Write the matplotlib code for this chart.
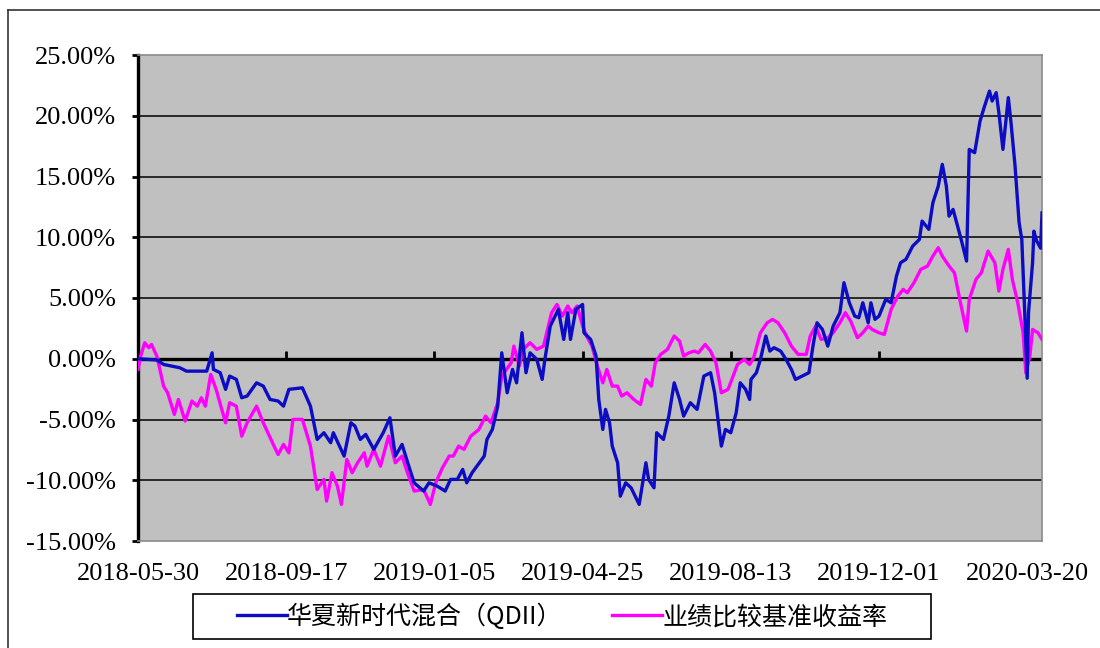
import matplotlib
matplotlib.use('Agg')
import matplotlib.pyplot as plt
from matplotlib.lines import Line2D
from matplotlib.patches import Rectangle
from matplotlib.font_manager import FontProperties
import pandas as pd

# fund cumulative return (%)
fund_dates = [
    '2018-05-30', '2018-06-13', '2018-06-18', '2018-06-30', '2018-07-05', '2018-07-20', '2018-07-24',
    '2018-07-25', '2018-07-30', '2018-08-03', '2018-08-06', '2018-08-11', '2018-08-15', '2018-08-19',
    '2018-08-26', '2018-08-31', '2018-09-05', '2018-09-11', '2018-09-15', '2018-09-19', '2018-09-29',
    '2018-10-05', '2018-10-10', '2018-10-15', '2018-10-20', '2018-10-22', '2018-10-30', '2018-11-04',
    '2018-11-07', '2018-11-11', '2018-11-15', '2018-11-21', '2018-11-28', '2018-12-03', '2018-12-07',
    '2018-12-12', '2018-12-17', '2018-12-21', '2018-12-28', '2019-01-01', '2019-01-07', '2019-01-13',
    '2019-01-17', '2019-01-22', '2019-01-26', '2019-01-29', '2019-02-02', '2019-02-11', '2019-02-13',
    '2019-02-17', '2019-02-21', '2019-02-24', '2019-02-28', '2019-03-04', '2019-03-07', '2019-03-11',
    '2019-03-14', '2019-03-17', '2019-03-22', '2019-03-26', '2019-03-28', '2019-04-01', '2019-04-07',
    '2019-04-11', '2019-04-14', '2019-04-16', '2019-04-20', '2019-04-25', '2019-04-26', '2019-05-01',
    '2019-05-05', '2019-05-07', '2019-05-10', '2019-05-12', '2019-05-15', '2019-05-17', '2019-05-21',
    '2019-05-23', '2019-05-27', '2019-05-31', '2019-06-06', '2019-06-11', '2019-06-13', '2019-06-17',
    '2019-06-19', '2019-06-24', '2019-06-28', '2019-07-02', '2019-07-06', '2019-07-09', '2019-07-14',
    '2019-07-19', '2019-07-24', '2019-07-29', '2019-08-01', '2019-08-06', '2019-08-09', '2019-08-13',
    '2019-08-17', '2019-08-20', '2019-08-24', '2019-08-27', '2019-08-28', '2019-09-01', '2019-09-04',
    '2019-09-08', '2019-09-11', '2019-09-14', '2019-09-19', '2019-09-23', '2019-09-27', '2019-09-30',
    '2019-10-05', '2019-10-10', '2019-10-13', '2019-10-16', '2019-10-20', '2019-10-24', '2019-10-28',
    '2019-11-02', '2019-11-05', '2019-11-09', '2019-11-13', '2019-11-16', '2019-11-19', '2019-11-23',
    '2019-11-25', '2019-11-28', '2019-12-01', '2019-12-06', '2019-12-10', '2019-12-14', '2019-12-17',
    '2019-12-21', '2019-12-26', '2019-12-31', '2020-01-02', '2020-01-07', '2020-01-10', '2020-01-14',
    '2020-01-17', '2020-01-20', '2020-01-22', '2020-01-25', '2020-01-31', '2020-02-04', '2020-02-06',
    '2020-02-10', '2020-02-14', '2020-02-17', '2020-02-21', '2020-02-23', '2020-02-26', '2020-02-28',
    '2020-03-02', '2020-03-06', '2020-03-08', '2020-03-11', '2020-03-14', '2020-03-16', '2020-03-18',
    '2020-03-20', '2020-03-21', '2020-03-24', '2020-03-25', '2020-03-27', '2020-03-30', '2020-03-31',
]
fund_vals = [
    0.00, -0.10, -0.47, -0.74, -1.02, -1.02, 0.49,
    -0.88, -1.15, -2.52, -1.43, -1.70, -3.21, -3.07,
    -1.98, -2.25, -3.35, -3.48, -3.90, -2.52, -2.39,
    -3.90, -6.64, -6.09, -6.91, -6.09, -8.01, -5.27,
    -5.54, -6.64, -6.23, -7.46, -6.09, -4.86, -8.01,
    -7.05, -8.84, -10.21, -10.89, -10.21, -10.48, -10.89,
    -9.93, -9.93, -9.11, -10.21, -9.38, -8.01, -6.64,
    -5.82, -3.90, 0.49, -2.80, -0.88, -1.98, 2.14,
    -1.15, 0.49, -0.05, -1.70, -0.05, 2.69, 4.06,
    1.59, 3.79, 1.59, 4.06, 4.47, 2.14, 1.59,
    0.22, -3.35, -5.82, -4.17, -5.27, -7.19, -8.56,
    -11.31, -10.21, -10.62, -11.99, -8.56, -9.93, -10.62,
    -6.09, -6.64, -4.72, -1.98, -3.35, -4.72, -3.62,
    -4.17, -1.43, -1.15, -2.80, -7.19, -5.82, -6.09,
    -4.45, -1.98, -2.52, -3.35, -1.70, -1.15, -0.05,
    1.87, 0.63, 0.91, 0.63, -0.05, -0.88, -1.70,
    -1.43, -1.15, 1.04, 2.96, 2.41, 1.04, 2.69,
    3.79, 6.26, 4.61, 3.51, 3.38, 4.61, 2.96,
    4.61, 3.24, 3.51, 4.88, 4.61, 6.81, 7.90,
    8.18, 9.27, 9.82, 11.33, 10.65, 12.84, 14.21,
    16.00, 14.21, 11.74, 12.29, 9.82, 8.04, 17.23,
    16.96, 19.56, 20.66, 22.03, 21.21, 21.90, 20.25,
    17.23, 21.49, 19.43, 15.86, 11.20, 9.82, 4.34,
    -1.60, 3.80, 7.90, 10.50, 9.70, 9.10, 12.00,
]

# benchmark return (%)
bench_dates = [
    '2018-05-30', '2018-06-01', '2018-06-04', '2018-06-07', '2018-06-09', '2018-06-13', '2018-06-18',
    '2018-06-21', '2018-06-26', '2018-06-29', '2018-07-04', '2018-07-09', '2018-07-13', '2018-07-16',
    '2018-07-19', '2018-07-23', '2018-07-27', '2018-08-03', '2018-08-06', '2018-08-11', '2018-08-15',
    '2018-08-19', '2018-08-26', '2018-08-31', '2018-09-08', '2018-09-11', '2018-09-15', '2018-09-19',
    '2018-09-22', '2018-09-29', '2018-10-05', '2018-10-10', '2018-10-15', '2018-10-17', '2018-10-21',
    '2018-10-25', '2018-10-28', '2018-11-01', '2018-11-05', '2018-11-09', '2018-11-14', '2018-11-16',
    '2018-11-21', '2018-11-26', '2018-12-02', '2018-12-07', '2018-12-12', '2018-12-16', '2018-12-21',
    '2018-12-28', '2019-01-02', '2019-01-06', '2019-01-11', '2019-01-16', '2019-01-19', '2019-01-23',
    '2019-01-27', '2019-02-01', '2019-02-07', '2019-02-12', '2019-02-16', '2019-02-21', '2019-02-24',
    '2019-03-03', '2019-03-05', '2019-03-09', '2019-03-12', '2019-03-17', '2019-03-22', '2019-03-27',
    '2019-03-30', '2019-04-02', '2019-04-06', '2019-04-10', '2019-04-14', '2019-04-17', '2019-04-21',
    '2019-04-25', '2019-04-28', '2019-05-02', '2019-05-06', '2019-05-10', '2019-05-13', '2019-05-17',
    '2019-05-21', '2019-05-24', '2019-05-28', '2019-06-02', '2019-06-07', '2019-06-11', '2019-06-15',
    '2019-06-18', '2019-06-22', '2019-06-27', '2019-07-02', '2019-07-06', '2019-07-09', '2019-07-13',
    '2019-07-17', '2019-07-20', '2019-07-25', '2019-07-29', '2019-08-02', '2019-08-06', '2019-08-11',
    '2019-08-18', '2019-08-23', '2019-08-27', '2019-08-30', '2019-09-04', '2019-09-09', '2019-09-13',
    '2019-09-17', '2019-09-22', '2019-09-27', '2019-10-02', '2019-10-08', '2019-10-11', '2019-10-15',
    '2019-10-19', '2019-10-24', '2019-10-28', '2019-11-02', '2019-11-06', '2019-11-10', '2019-11-15',
    '2019-11-19', '2019-11-23', '2019-11-26', '2019-12-01', '2019-12-05', '2019-12-10', '2019-12-15',
    '2019-12-19', '2019-12-22', '2019-12-27', '2020-01-01', '2020-01-06', '2020-01-10', '2020-01-14',
    '2020-01-17', '2020-01-22', '2020-01-26', '2020-01-31', '2020-02-04', '2020-02-06', '2020-02-11',
    '2020-02-15', '2020-02-20', '2020-02-25', '2020-02-28', '2020-03-02', '2020-03-06', '2020-03-09',
    '2020-03-13', '2020-03-17', '2020-03-19', '2020-03-22', '2020-03-24', '2020-03-28', '2020-03-31',
]
bench_vals = [
    -0.88, 0.22, 1.32, 0.91, 1.18, 0.22, -2.25,
    -2.80, -4.58, -3.35, -5.13, -3.48, -3.90, -3.21,
    -3.90, -1.29, -2.52, -5.27, -3.62, -3.90, -6.37,
    -5.27, -3.90, -5.27, -7.19, -7.88, -7.05, -7.74,
    -4.99, -4.99, -7.19, -10.76, -9.93, -11.72, -9.38,
    -10.48, -11.99, -8.29, -9.38, -8.56, -7.74, -8.84,
    -7.46, -8.84, -6.37, -8.56, -8.01, -9.38, -10.89,
    -10.76, -11.99, -10.21, -8.97, -8.01, -8.01, -7.19,
    -7.46, -6.37, -5.82, -4.72, -5.27, -3.62, -1.43,
    -0.33, 1.04, -0.60, 0.77, 1.32, 0.77, 1.04,
    2.41, 3.79, 4.47, 3.51, 4.34, 3.79, 4.34,
    2.69, 1.87, 1.04, -0.60, -1.98, -0.88, -2.25,
    -2.25, -3.07, -2.80, -3.35, -3.76, -1.70, -2.25,
    -0.33, 0.36, 0.77, 1.87, 1.45, 0.22, 0.49,
    0.63, 0.49, 1.18, 0.63, -0.33, -2.80, -2.52,
    -0.47, -0.05, -0.47, 0.08, 2.14, 2.96, 3.24,
    2.96, 2.14, 1.04, 0.36, 0.36, 1.87, 2.69,
    1.59, 1.73, 2.14, 2.96, 3.79, 3.10, 1.73,
    2.14, 2.69, 2.41, 2.14, 2.00, 4.06, 5.16,
    5.71, 5.43, 6.26, 7.35, 7.63, 8.45, 9.14,
    8.45, 7.63, 7.08, 4.34, 2.28, 4.88, 6.53,
    7.08, 8.86, 7.90, 5.57, 7.35, 9.00, 6.53,
    4.61, 2.14, -1.15, 0.22, 2.41, 2.14, 1.59,
]

tick_dates = ['2018-05-30', '2018-09-17', '2019-01-05', '2019-04-25',
              '2019-08-13', '2019-12-01', '2020-03-20']
y_ticks = [-15, -10, -5, 0, 5, 10, 15, 20, 25]
series_names = ['华夏新时代混合（QDII）', '业绩比较基准收益率']

W, H = 1100, 648
fig = plt.figure(figsize=(W / 100, H / 100), dpi=100)
fig.patch.set_facecolor('white')
ax = fig.add_axes([138 / W, 1 - 541 / H, (1042 - 138) / W, (541 - 55) / H])
ax.set_facecolor('#c0c0c0')

fd = pd.to_datetime(fund_dates)
bd = pd.to_datetime(bench_dates)
td = pd.to_datetime(tick_dates)

# horizontal gridlines (inner ones, black)
for v in y_ticks[1:-1]:
    if v != 0:
        ax.axhline(v, color='black', lw=1.1, zorder=1)
ax.axhline(0, color='black', lw=2.4, zorder=1.5)
ax.plot(td[1:], [0] * (len(td) - 1), ls='none', marker=2, ms=6, mew=2,
        color='black', zorder=1.6)

ax.plot(bd, bench_vals, color='#ff00ff', lw=2.4, zorder=3)
ax.plot(fd, fund_vals, color='#0c0cc4', lw=2.4, zorder=4)

ax.set_xlim(pd.Timestamp('2018-05-30'), pd.Timestamp('2020-03-31'))
ax.set_ylim(-15, 25)

tick_font = dict(family='Liberation Serif', size=19)
ax.set_yticks(y_ticks)
ax.set_yticklabels([f'{v:.2f}%' for v in y_ticks], **tick_font)
ax.set_xticks(td)
ax.set_xticklabels([d.strftime('%Y-%m-%d') for d in td], **tick_font)
ax.tick_params(axis='x', length=0, pad=16)
ax.tick_params(axis='y', length=4, width=2, direction='out', pad=12, color='black')

for side in ['top', 'right', 'bottom']:
    ax.spines[side].set_color('#8a8a8a')
    ax.spines[side].set_linewidth(1.2)
ax.spines['left'].set_color('black')
ax.spines['left'].set_linewidth(2.4)

# outer chart frame
fig.add_artist(Line2D([8 / W, 8 / W], [0, 1 - 10 / H], color='#333333', lw=1.2))
fig.add_artist(Line2D([8 / W, 1], [1 - 10 / H, 1 - 10 / H], color='#333333', lw=1.2))

# legend box
fig.add_artist(Rectangle((193 / W, 1 - 639 / H), (931 - 193) / W, (639 - 594) / H,
                         transform=fig.transFigure, fill=False, ec='black', lw=1.2))
handles = [Line2D([], [], color='#0c0cc4', lw=2.4), Line2D([], [], color='#ff00ff', lw=2.4)]
fig.legend(handles, series_names, loc='center', bbox_to_anchor=(562 / W, 1 - 617 / H),
           ncol=2, frameon=False, prop=FontProperties(family=['Noto Sans CJK SC', 'DejaVu Sans'], size=18),
           handlelength=2.0, handletextpad=0.0, columnspacing=2.0)

fig.savefig('out.png', dpi=100)
